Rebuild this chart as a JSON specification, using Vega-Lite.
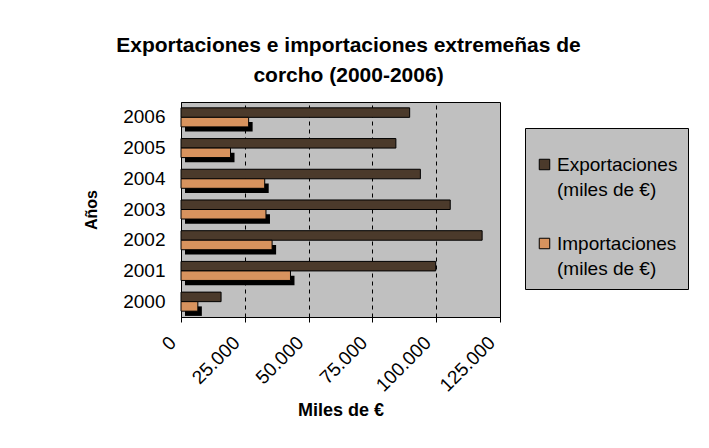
{
  "$schema": "https://vega.github.io/schema/vega-lite/v6.json",
  "width": 319,
  "height": 215,
  "autosize": {"type": "none"},
  "padding": {"left": 181, "top": 102, "right": 209, "bottom": 131},
  "background": "white",
  "title": {
    "text": ["Exportaciones e importaciones extremeñas de", "corcho (2000-2006)"],
    "font": "Liberation Sans",
    "fontSize": 21,
    "fontWeight": "bold",
    "lineHeight": 30,
    "anchor": "middle",
    "dx": 8,
    "offset": 16,
    "color": "black"
  },
  "data": {
    "values": [
      {"anio": "2000", "serie": "Exportaciones (miles de €)", "valor": 15700},
      {"anio": "2001", "serie": "Exportaciones (miles de €)", "valor": 99800},
      {"anio": "2002", "serie": "Exportaciones (miles de €)", "valor": 118000},
      {"anio": "2003", "serie": "Exportaciones (miles de €)", "valor": 105500},
      {"anio": "2004", "serie": "Exportaciones (miles de €)", "valor": 93800},
      {"anio": "2005", "serie": "Exportaciones (miles de €)", "valor": 84200},
      {"anio": "2006", "serie": "Exportaciones (miles de €)", "valor": 89600},
      {"anio": "2000", "serie": "Importaciones (miles de €)", "valor": 6600},
      {"anio": "2001", "serie": "Importaciones (miles de €)", "valor": 42900},
      {"anio": "2002", "serie": "Importaciones (miles de €)", "valor": 35700},
      {"anio": "2003", "serie": "Importaciones (miles de €)", "valor": 33300},
      {"anio": "2004", "serie": "Importaciones (miles de €)", "valor": 32800},
      {"anio": "2005", "serie": "Importaciones (miles de €)", "valor": 19400},
      {"anio": "2006", "serie": "Importaciones (miles de €)", "valor": 26500}
    ]
  },
  "encoding": {
    "y": {
      "field": "anio",
      "type": "ordinal",
      "sort": "descending",
      "scale": {"paddingInner": 0.38, "paddingOuter": 0.19},
      "axis": {
        "title": "Años",
        "titleFontSize": 16,
        "titleFontWeight": "bold",
        "titlePadding": 23,
        "labelFontSize": 19,
        "labelPadding": 16,
        "ticks": false,
        "grid": false
      }
    },
    "x": {
      "field": "valor",
      "type": "quantitative",
      "scale": {"domain": [0, 125000], "nice": false},
      "axis": {
        "title": "Miles de €",
        "titleFontSize": 18,
        "titleFontWeight": "bold",
        "titlePadding": 7,
        "values": [0, 25000, 50000, 75000, 100000, 125000],
        "labelExpr": "replace(format(datum.value, ','), ',', '.')",
        "labelAngle": -45,
        "labelFontSize": 19,
        "labelOffset": -15,
        "labelPadding": 11,
        "tickSize": 5,
        "grid": true,
        "gridDash": [4, 4],
        "gridColor": "black",
        "gridOpacity": 1
      }
    }
  },
  "layer": [
    {
      "transform": [{"filter": "datum.serie == 'Importaciones (miles de €)'"}],
      "mark": {"type": "bar", "color": "black", "height": {"band": 0.5}, "xOffset": 4, "yOffset": 9.5}
    },
    {
      "mark": {"type": "bar", "stroke": "black", "strokeWidth": 1},
      "encoding": {
        "yOffset": {
          "field": "serie",
          "type": "nominal",
          "sort": ["Exportaciones (miles de €)", "Importaciones (miles de €)"]
        },
        "color": {
          "field": "serie",
          "type": "nominal",
          "scale": {
            "domain": ["Exportaciones (miles de €)", "Importaciones (miles de €)"],
            "range": ["#4b3a2b", "#d8935e"]
          },
          "legend": {
            "title": " ",
            "titleFontSize": 8,
            "titlePadding": 9,
            "orient": "none",
            "legendX": 344,
            "legendY": 26,
            "labelExpr": "[replace(datum.label, ' (miles de €)', ''), '(miles de €)']"
          }
        }
      }
    }
  ],
  "config": {
    "font": "Liberation Sans",
    "view": {"stroke": "black", "strokeWidth": 1, "fill": "#c0c0c0"},
    "axis": {
      "domainColor": "black",
      "tickColor": "black",
      "labelColor": "black",
      "titleColor": "black",
      "labelFont": "Liberation Sans",
      "titleFont": "Liberation Sans"
    },
    "legend": {
      "fillColor": "#c0c0c0",
      "strokeColor": "black",
      "padding": 10,
      "symbolType": "square",
      "symbolSize": 110,
      "symbolStrokeColor": "black",
      "symbolStrokeWidth": 1,
      "labelFontSize": 19,
      "labelColor": "black",
      "labelFont": "Liberation Sans",
      "labelLimit": 0,
      "labelOffset": 3,
      "rowPadding": 34
    },
    "style": {"guide-label": {"lineHeight": 25}}
  }
}
